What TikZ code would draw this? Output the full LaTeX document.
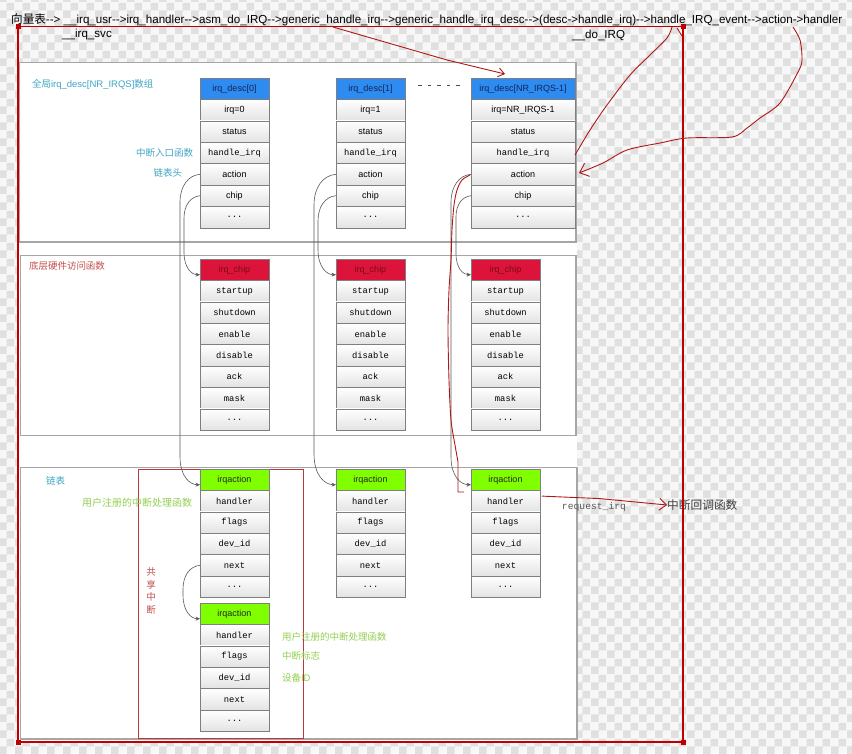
\documentclass[tikz,border=0pt]{standalone}
\usepackage{fontspec}
\newfontfamily\arial{Liberation Sans}
\newfontfamily\cjk{Noto Sans CJK SC}
\newfontfamily\mono{Liberation Mono}
\usetikzlibrary{arrows.meta,calc,patterns}

\pgfdeclarepatternformonly{checker}{\pgfpointorigin}{\pgfpoint{16pt}{16pt}}{\pgfpoint{16pt}{16pt}}{%
  \pgfpathrectangle{\pgfpointorigin}{\pgfpoint{8pt}{8pt}}%
  \pgfpathrectangle{\pgfpoint{8pt}{8pt}}{\pgfpoint{8pt}{8pt}}%
  \pgfusepath{fill}}

\definecolor{descblue}{HTML}{2E8BEF}
\definecolor{chipred}{HTML}{DC143C}
\definecolor{actgreen}{HTML}{7FFF00}
\definecolor{tealtxt}{HTML}{3FA6C4}
\definecolor{lblred}{HTML}{C0504D}
\definecolor{lblgreen}{HTML}{92D050}
\definecolor{penred}{HTML}{B01818}
\definecolor{framered}{HTML}{C00000}
\definecolor{panelgray}{HTML}{A6A6A6}
\definecolor{cellborder}{HTML}{7F7F7F}
\definecolor{sharedred}{HTML}{B83B3B}
\definecolor{navytxt}{HTML}{14245A}
\definecolor{darkredtxt}{HTML}{7A0A14}

\newcommand\mt[1]{{\mono\fontsize{8.8}{10}\selectfont #1}}

\tikzset{
  boxbase/.style={draw=cellborder, line width=0.6pt, minimum height=21.4pt,
    inner sep=0pt, outer sep=0pt, font=\arial\fontsize{9}{10}\selectfont},
  cell/.style={boxbase, top color=white, bottom color=black!11, text=black},
  hdrblue/.style={boxbase, fill=descblue, text=navytxt},
  hdrred/.style={boxbase, fill=chipred, text=darkredtxt},
  hdrgreen/.style={boxbase, fill=actgreen, text=black!85},
  panel/.style={draw=panelgray, line width=1.2pt},
  conn/.style={draw=black!65, line width=0.6pt, -{Stealth[length=4.5pt,width=4pt]}},
  redpen/.style={draw=penred, line width=0.9pt},
  lbl/.style={inner sep=0pt, outer sep=0pt, font=\arial\fontsize{9.5}{11}\selectfont},
}

% #1 prefix, #2 left x, #3 top y, #4 width, #5 header style, #6 header text, #7 rows
\newcommand\boxstack[7]{%
  \node[#5, minimum width=#4, anchor=north west] (#1-0) at (#2,#3) {#6};
  \foreach \t [count=\i] in {#7} {%
    \pgfmathtruncatemacro\prv{\i-1}%
    \node[cell, minimum width=#4, anchor=north] (#1-\i) at (#1-\prv.south) {\t};
  }%
}

% curved link: #1 start node, #2 end node, #3 offset
\newcommand\lnk[3]{%
  \draw[conn] (#1.west)
    .. controls ($(#1.west)+(-0.6*#3,1)$) and ($(#1.west)+(-#3,0.6*#3)$) ..
    ($(#1.west)+(-#3,1.4*#3)$) -- ($(#2.west)+(-#3,-1.4*#3+5)$)
    .. controls ($(#2.west)+(-#3,-0.4*#3+5)$) and ($(#2.west)+(-0.5*#3,5)$) ..
    ($(#2.west)+(0,5)$);
}

\begin{document}
\begin{tikzpicture}[x=1pt,y=-1pt]
\useasboundingbox (0,0) rectangle (852,753);
\fill[white!97!black] (0,0) rectangle (852,753);
\fill[pattern=checker, pattern color=black!12] (0,0) rectangle (852,753);
\fill[white] (18,62) rectangle (577,742);

% panels
\draw[panel] (19,62.5) rectangle (576,242);
\draw[panel] (20.5,255.5) rectangle (576,435.5);
\draw[panel] (20.5,467.5) rectangle (577,739);
\draw[draw=sharedred, line width=0.8pt] (138,469.5) rectangle (303,738);

% irq_desc columns
\boxstack{d0}{200}{78}{69pt}{hdrblue}{irq\_desc[0]}{irq=0, status, \mt{handle\_irq}, action, chip, \mt{...}}
\boxstack{d1}{336}{78}{69pt}{hdrblue}{irq\_desc[1]}{irq=1, status, \mt{handle\_irq}, action, chip, \mt{...}}
\boxstack{d2}{471}{78}{104pt}{hdrblue}{irq\_desc[NR\_IRQS-1]}{irq=NR\_IRQS-1, status, \mt{handle\_irq}, action, chip, \mt{...}}

% irq_chip columns
\boxstack{c0}{200}{259}{69pt}{hdrred}{irq\_chip}{\mt{startup}, \mt{shutdown}, \mt{enable}, \mt{disable}, \mt{ack}, \mt{mask}, \mt{...}}
\boxstack{c1}{336}{259}{69pt}{hdrred}{irq\_chip}{\mt{startup}, \mt{shutdown}, \mt{enable}, \mt{disable}, \mt{ack}, \mt{mask}, \mt{...}}
\boxstack{c2}{471}{259}{69pt}{hdrred}{irq\_chip}{\mt{startup}, \mt{shutdown}, \mt{enable}, \mt{disable}, \mt{ack}, \mt{mask}, \mt{...}}

% irqaction columns
\boxstack{a0}{200}{469}{69pt}{hdrgreen}{irqaction}{\mt{handler}, \mt{flags}, \mt{dev\_id}, \mt{next}, \mt{...}}
\boxstack{a1}{336}{469}{69pt}{hdrgreen}{irqaction}{\mt{handler}, \mt{flags}, \mt{dev\_id}, \mt{next}, \mt{...}}
\boxstack{a2}{471}{469}{69pt}{hdrgreen}{irqaction}{\mt{handler}, \mt{flags}, \mt{dev\_id}, \mt{next}, \mt{...}}
\boxstack{b0}{200}{603}{69pt}{hdrgreen}{irqaction}{\mt{handler}, \mt{flags}, \mt{dev\_id}, \mt{next}, \mt{...}}

\draw[black!70, line width=0.8pt, dash pattern=on 3.5pt off 6pt, shorten <=13pt, shorten >=8pt] ($(d1-0.east)+(0,-3)$) -- ($(d2-0.west)+(0,-3)$);

% grey links
\lnk{d0-4}{a0-0}{20}
\lnk{d0-5}{c0-0}{16}
\lnk{a0-4}{b0-0}{17}
\lnk{d1-4}{a1-0}{22}
\lnk{d1-5}{c1-0}{18}
\lnk{d2-4}{a2-0}{20}
\lnk{d2-5}{c2-0}{15}

% labels
\node[lbl, text=tealtxt, anchor=west] (lglobal) at (32,84) {{\cjk 全局}irq\_desc[NR\_IRQS]{\cjk 数组}};
\node[lbl, text=tealtxt, anchor=east] (lentry) at (193,153) {\cjk 中断入口函数};
\node[lbl, text=tealtxt, anchor=east] (lhead) at (182,173) {\cjk 链表头};
\node[lbl, text=lblred, anchor=west] (lhw) at (29,266) {\cjk 底层硬件访问函数};
\node[lbl, text=tealtxt, anchor=west] (llist) at (46,481) {\cjk 链表};
\node[lbl, text=lblgreen, anchor=west, font=\cjk\fontsize{10}{11}\selectfont] (luser1) at (82,503) {用户注册的中断处理函数};
\node[lbl, text=lblgreen, anchor=west] (luser2) at (282,637) {\cjk 用户注册的中断处理函数};
\node[lbl, text=lblgreen, anchor=west] (lflag) at (282,656) {\cjk 中断标志};
\node[lbl, text=lblgreen, anchor=west] (ldev) at (282,678) {{\cjk 设备}ID};
\node[lbl, text=lblred, align=center, font=\cjk\fontsize{9.5}{12.7}\selectfont] (lshared) at (151,591) {共\\享\\中\\断};
\node[inner sep=0pt, text=black!65, font=\mono\fontsize{9.7}{11}\selectfont] (lreq) at (594,507) {request\_irq};
\node[inner sep=0pt, anchor=west, text=black!75, font=\cjk\fontsize{11.7}{13}\selectfont] (cb) at (667,505) {中断回调函数};

% top call chain
\node[anchor=base west, inner sep=0pt, font=\arial\fontsize{11.6}{14}\selectfont] (top1) at (11,23.5)
  {{\cjk 向量表}-->\ \_\_irq\_usr-->irq\_handler-->asm\_do\_IRQ-->generic\_handle\_irq-->generic\_handle\_irq\_desc-->(desc->handle\_irq)-->handle\_IRQ\_event-->action->handler};
\node[anchor=base west, inner sep=0pt, font=\arial\fontsize{11.6}{14}\selectfont] (top2) at (62,37.5) {\_\_irq\_svc};
\node[anchor=base west, inner sep=0pt, font=\arial\fontsize{11.6}{14}\selectfont] (top3) at (572,38) {\_\_do\_IRQ};

% frame
\draw[framered, line width=1.2pt] (18,26.5) rectangle (683,742);
\foreach \p in {(18,26.5),(683,26.5),(683,742),(18,742)}
  \fill[framered] \p +(-2.5,-2.5) rectangle +(2.5,2.5);

% red hand-drawn annotations
\draw[redpen] plot[smooth] coordinates {(470,175) (462,180) (457,190) (454,205) (452,230) (451,260) (449,290) (448,330) (449,380) (451,420) (455,445) (458,462)} -- (458,492) -- (464,492);
\draw[redpen, -{Straight Barb[length=6pt,width=9pt]}] (333,27) -- (447,60) -- (505,74);
\draw[redpen] plot[smooth] coordinates {(672,27) (667,38) (650,55) (630,75) (607,105) (590,130) (575,155)};
\draw[redpen] (677,28) -- (682,36);
\draw[redpen, -{Straight Barb[length=8pt,width=14pt]}] plot[smooth] coordinates {(793,27) (800,40) (802,60) (798,72) (780,103) (760,118) (747,128) (732,137) (687,138) (660,143) (627,150) (603,163) (579,173)};
\draw[redpen, -{Straight Barb[length=7pt,width=12pt]}] ($(a2-1.east)+(2,-5)$) -- ($(a2-1.east)+(60,-2.5)$) -- (cb.west);
\end{tikzpicture}
\end{document}
